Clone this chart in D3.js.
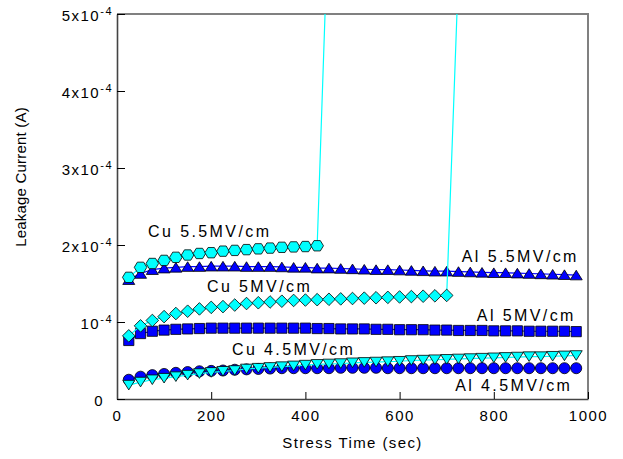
<!DOCTYPE html>
<html>
<head>
<meta charset="utf-8">
<script src="https://cdn.jsdelivr.net/npm/d3@7"></script>
<style>
  body { margin: 0; background: #fff; }
  svg { font-family: Arial, "Liberation Sans", sans-serif; }
</style>
</head>
<body>
<div id="chart"></div>
<script>
// stress time (sec), one reading every 25 s
const times = [25, 50, 75, 100, 125, 150, 175, 200, 225, 250, 275, 300, 325, 350, 375, 400,
  425, 450, 475, 500, 525, 550, 575, 600, 625, 650, 675, 700, 725, 750, 775, 800, 825, 850,
  875, 900, 925, 950, 975];

// leakage current, in units of 1e-4 A
const al55 = [1.55, 1.63, 1.68, 1.70, 1.71, 1.72, 1.72, 1.725, 1.725, 1.725, 1.72, 1.72, 1.72,
  1.715, 1.71, 1.71, 1.70, 1.70, 1.695, 1.69, 1.685, 1.68, 1.68, 1.675, 1.67, 1.665, 1.66, 1.66,
  1.655, 1.65, 1.645, 1.64, 1.64, 1.635, 1.63, 1.625, 1.62, 1.615, 1.61];
// last value is the breakdown jump (off the top of the chart)
const cu55 = [1.58, 1.71, 1.76, 1.80, 1.84, 1.87, 1.89, 1.90, 1.92, 1.93, 1.94, 1.95, 1.96,
  1.97, 1.975, 1.98, 1.99, 6.5];
const al5 = [0.76, 0.85, 0.88, 0.895, 0.905, 0.91, 0.915, 0.92, 0.92, 0.92, 0.92, 0.92, 0.92,
  0.92, 0.92, 0.92, 0.915, 0.915, 0.91, 0.91, 0.91, 0.905, 0.905, 0.90, 0.90, 0.90, 0.895, 0.895,
  0.89, 0.89, 0.89, 0.885, 0.885, 0.885, 0.88, 0.88, 0.88, 0.88, 0.875];
const cu5 = [0.82, 0.95, 1.02, 1.07, 1.11, 1.14, 1.17, 1.19, 1.20, 1.22, 1.24, 1.25, 1.26, 1.27,
  1.28, 1.285, 1.29, 1.295, 1.30, 1.305, 1.31, 1.315, 1.32, 1.325, 1.33, 1.335, 1.34, 1.345, 5.55];
const al45 = [0.25, 0.29, 0.31, 0.325, 0.34, 0.35, 0.36, 0.365, 0.37, 0.38, 0.385, 0.39, 0.395,
  0.40, 0.40, 0.40, 0.40, 0.40, 0.405, 0.405, 0.405, 0.405, 0.40, 0.40, 0.40, 0.40, 0.40, 0.40,
  0.40, 0.40, 0.40, 0.40, 0.40, 0.40, 0.40, 0.40, 0.40, 0.40, 0.40];
const cu45 = [0.18, 0.22, 0.25, 0.27, 0.29, 0.31, 0.33, 0.345, 0.36, 0.37, 0.39, 0.40, 0.41, 0.42,
  0.43, 0.44, 0.45, 0.455, 0.46, 0.47, 0.475, 0.48, 0.485, 0.49, 0.50, 0.505, 0.51, 0.515, 0.52,
  0.525, 0.53, 0.535, 0.54, 0.545, 0.55, 0.55, 0.555, 0.56, 0.565];

const xTicks = [0, 200, 400, 600, 800, 1000];
const yTicks = [0, 1, 2, 3, 4, 5];
const yTickBase = ['0', '10', '2x10', '3x10', '4x10', '5x10'];
const seriesNames = ['Al 5.5MV/cm', 'Cu 5.5MV/cm', 'Al 5MV/cm', 'Cu 5MV/cm', 'Al 4.5MV/cm', 'Cu 4.5MV/cm'];
// label anchor (start of text baseline) in data units
const labelT = [732, 66, 764, 191, 718, 244];
const labelV = [1.775, 2.11, 1.01, 1.386, 0.104, 0.57];

const BLUE = '#0000ff';
const CYAN = '#00ffff';

// custom marker shapes, size = radius^2
const poly = (pts) => ({
  draw(ctx, size) {
    const r = Math.sqrt(size);
    pts.forEach(([px, py], i) => i ? ctx.lineTo(px * r, py * r) : ctx.moveTo(px * r, py * r));
    ctx.closePath();
  }
});
const hexagon = poly(d3.range(6).map(i => [Math.cos(i * Math.PI / 3), Math.sin(i * Math.PI / 3) * 0.95]));
const triUp = poly([[0, -0.8], [1, 0.8], [-1, 0.8]]);
const triDown = poly([[0, 0.8], [1, -0.8], [-1, -0.8]]);
const diamond = poly([[0, -1], [1, 0], [0, 1], [-1, 0]]);
const square = poly([[-0.85, -0.85], [0.85, -0.85], [0.85, 0.85], [-0.85, 0.85]]);
const circle = { draw(ctx, size) { const r = Math.sqrt(size) * 0.92; ctx.moveTo(r, 0); ctx.arc(0, 0, r, 0, 2 * Math.PI); } };

const series = [
  { values: al55, color: BLUE, shape: triUp, r: 6 },
  { values: cu55, color: CYAN, shape: hexagon, r: 6.3 },
  { values: al5, color: BLUE, shape: square, r: 6 },
  { values: cu5, color: CYAN, shape: diamond, r: 6.3 },
  { values: al45, color: BLUE, shape: circle, r: 6 },
  { values: cu45, color: CYAN, shape: triDown, r: 6 },
];

const W = 623, H = 459;
const x = d3.scaleLinear().domain([0, 1000]).range([117, 588]);
const y = d3.scaleLinear().domain([0, 5]).range([399, 14]);

const svg = d3.select('#chart').append('svg')
  .attr('width', W)
  .attr('height', H);

svg.append('clipPath').attr('id', 'plot-clip')
  .append('rect')
  .attr('x', x(0)).attr('y', y(5))
  .attr('width', x(1000) - x(0)).attr('height', y(0) - y(5));

// frame: top/right grey, axes darker
svg.append('path')
  .attr('d', `M${x(0)},${y(5)}H${x(1000)}V${y(0)}`)
  .attr('fill', 'none').attr('stroke', '#808080').attr('stroke-width', 2);

const xg = svg.append('g')
  .attr('transform', `translate(0,${y(0)})`)
  .call(d3.axisBottom(x).tickValues(xTicks).tickFormat(d3.format('d'))
    .tickSizeInner(-7).tickSizeOuter(0).tickPadding(11));
const yg = svg.append('g')
  .attr('transform', `translate(${x(0)},0)`)
  .call(d3.axisLeft(y).tickValues(yTicks).tickSizeInner(-8).tickSizeOuter(0).tickPadding(5));

[xg, yg].forEach(g => {
  g.select('.domain').attr('stroke', '#444').attr('stroke-width', 1.6);
  g.selectAll('.tick line').attr('stroke', '#000');
  g.selectAll('.tick text')
    .attr('font-size', 15)
    .attr('font-family', 'Arial, "Liberation Sans", sans-serif')
    .attr('letter-spacing', 1.5)
    .attr('fill', '#000');
});

// y tick labels with superscript exponent
yg.selectAll('.tick text').each(function (d, i) {
  const t = d3.select(this).text('').attr('dy', '0.4em');
  t.append('tspan').text(yTickBase[i]);
  if (d === 0) {
    t.attr('x', -13);
  } else {
    t.attr('x', -4);
    t.append('tspan').text('-4').attr('font-size', 11).attr('dy', '-0.5em').attr('letter-spacing', 1.5);
  }
});

// data
const plot = svg.append('g').attr('clip-path', 'url(#plot-clip)');
const line = d3.line().x(d => x(d.t)).y(d => y(d.v));

series.forEach(s => {
  const pts = s.values.map((v, i) => ({ t: times[i], v }));
  const g = plot.append('g');
  g.append('path')
    .datum(pts)
    .attr('d', line)
    .attr('fill', 'none')
    .attr('stroke', s.color)
    .attr('stroke-width', 1.2);
  g.selectAll('.marker')
    .data(pts)
    .enter().append('path')
    .attr('class', 'marker')
    .attr('transform', d => `translate(${x(d.t)},${y(d.v)})`)
    .attr('d', d3.symbol().type(s.shape).size(s.r * s.r))
    .attr('fill', s.color)
    .attr('stroke', '#000')
    .attr('stroke-width', 0.8);
});

// series labels
svg.append('g').selectAll('text')
  .data(seriesNames)
  .enter().append('text')
  .attr('x', (d, i) => x(labelT[i]))
  .attr('y', (d, i) => y(labelV[i]))
  .attr('font-size', 16)
  .attr('letter-spacing', 2.4)
  .attr('fill', '#000')
  .text(d => d);

// axis titles
svg.append('text')
  .attr('x', (x(0) + x(1000)) / 2)
  .attr('y', 448)
  .attr('text-anchor', 'middle')
  .attr('font-size', 15)
  .attr('letter-spacing', 1.4)
  .text('Stress Time (sec)');

svg.append('text')
  .attr('transform', 'translate(26,177) rotate(-90)')
  .attr('text-anchor', 'middle')
  .attr('font-size', 15)
  .attr('letter-spacing', 0.2)
  .text('Leakage Current (A)');
</script>
</body>
</html>
